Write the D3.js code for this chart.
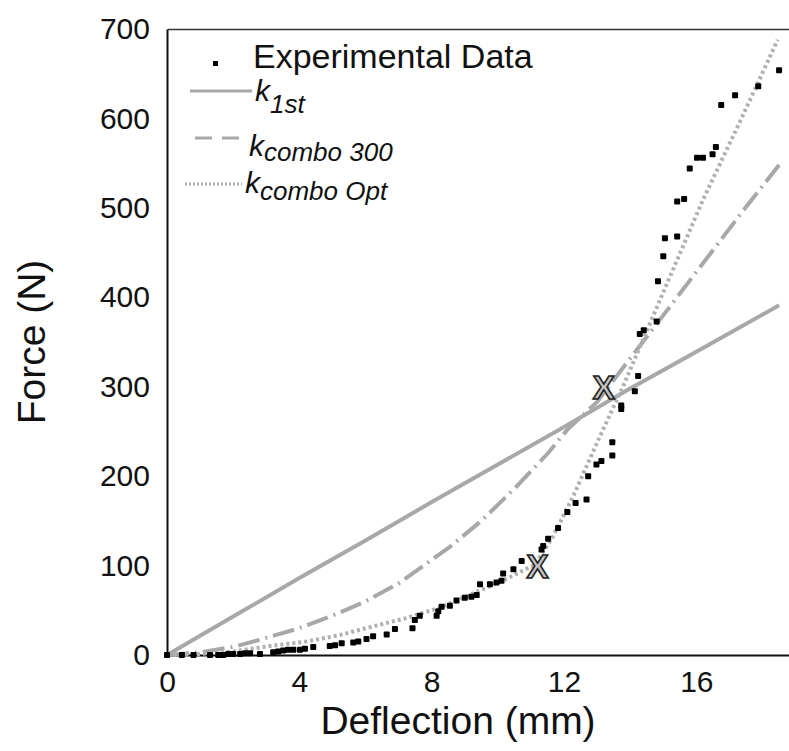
<!DOCTYPE html>
<html>
<head>
<meta charset="utf-8">
<script src="https://cdn.jsdelivr.net/npm/d3@7"></script>
<style>
  body { margin: 0; background: #fff; }
  svg { display: block; }
  svg text { font-family: "Liberation Sans", Arial, sans-serif; }
</style>
</head>
<body>
<div id="chart"></div>
<script>
// axis ticks
const xTicks = [0, 4, 8, 12, 16];
const yTicks = [0, 100, 200, 300, 400, 500, 600, 700];

// experimental data [deflection mm, force N]
const expData = [
  [0, 0], [0.45, 0], [0.8, 0], [1.3, 0], [1.55, 0], [1.7, 0], [1.85, 1], [2.0, 1],
  [2.21, 1], [2.36, 2], [2.51, 2], [2.81, 1], [3.21, 3], [3.36, 4], [3.51, 5], [3.66, 6],
  [3.82, 6], [4.02, 6], [4.17, 7], [4.42, 9], [4.92, 10], [5.08, 11], [5.28, 13], [5.63, 14],
  [5.78, 15], [6.03, 18], [6.23, 21], [6.64, 23], [6.89, 29], [7.42, 30], [7.49, 39], [7.64, 44],
  [8.15, 44], [8.2, 49], [8.3, 54], [8.55, 55], [8.75, 61], [9.0, 64], [9.2, 65], [9.36, 67],
  [9.46, 79], [9.76, 79], [9.96, 81], [10.11, 83], [10.16, 91], [10.47, 96], [10.72, 105],
  [11.32, 118], [11.37, 122], [11.52, 130], [11.82, 142], [12.1, 160], [12.35, 170],
  [12.68, 174], [12.73, 200], [12.98, 213], [13.13, 217], [13.46, 223], [13.46, 238],
  [13.73, 275], [13.73, 279], [14.14, 295], [14.24, 312], [14.29, 359], [14.41, 363],
  [14.8, 373], [14.84, 418], [15.0, 446], [15.05, 466], [15.42, 468], [15.42, 507],
  [15.63, 510], [15.8, 544], [16.02, 556], [16.2, 556], [16.49, 560], [16.59, 568],
  [16.75, 615], [17.17, 626], [17.87, 636], [18.5, 654]
];

// model curves
const k1st = [[0, 0], [2, 43], [4, 86], [6, 128], [8, 171], [10, 213], [12, 255], [14, 298], [16, 339], [18.5, 391]];
const kCombo300 = [[0, 0], [1, 3], [2, 9], [2.8, 17], [4, 30], [5.2, 47], [6, 60], [7, 80], [8.55, 121],
  [9.5, 150], [10.5, 186], [11.5, 225], [12.1, 252], [13, 283], [13.8, 322], [14.9, 375],
  [16.2, 438], [17.5, 501], [18.5, 548]];
const kComboOpt = [[0, 0], [1, 1], [2, 4], [3.3, 11], [4.2, 15], [5.2, 22], [5.8, 28], [7.2, 41],
  [8.25, 53], [9.45, 72], [10.25, 85], [10.9, 97], [11.1, 100], [11.66, 132], [12.27, 177],
  [13.08, 244], [13.78, 300], [14.9, 397], [16.2, 509], [17.3, 595], [18.46, 688]];

// transition points marked with X
const xMarks = [[11.2, 100], [13.2, 300]];

const width = 789, height = 751;
const margin = { top: 29, right: 0, bottom: 96, left: 167 };
const font = "'Liberation Sans', Arial, sans-serif";

const svg = d3.select("#chart").append("svg")
  .attr("width", width)
  .attr("height", height);

const x = d3.scaleLinear().domain([0, 18.8]).range([margin.left, width - margin.right]);
const y = d3.scaleLinear().domain([0, 700]).range([height - margin.bottom, margin.top]);

// axes
const xAxis = svg.append("g")
  .attr("transform", `translate(0,${y(0)})`)
  .call(d3.axisBottom(x).tickValues(xTicks).tickSize(0).tickSizeOuter(0).tickPadding(16));
xAxis.attr("font-family", font);
xAxis.select(".domain").attr("stroke", "#111").attr("stroke-width", 2);
xAxis.selectAll("text").style("font-size", "30px").attr("fill", "#111");

const yAxis = svg.append("g")
  .attr("transform", `translate(${x(0)},0)`)
  .call(d3.axisLeft(y).tickValues(yTicks).tickSize(0).tickSizeOuter(0).tickPadding(17));
yAxis.attr("font-family", font);
yAxis.select(".domain").attr("stroke", "#111").attr("stroke-width", 2);
yAxis.selectAll("text").style("font-size", "30px").attr("fill", "#111");

const topAxis = svg.append("g")
  .attr("transform", `translate(0,${y(700)})`)
  .call(d3.axisTop(x).tickValues([]).tickSizeOuter(0));
topAxis.select(".domain").attr("stroke", "#333").attr("stroke-width", 1.5);

// axis titles
svg.append("text")
  .attr("x", 458)
  .attr("y", 734)
  .attr("text-anchor", "middle")
  .style("font-size", "39px")
  .attr("fill", "#111")
  .text("Deflection (mm)");

svg.append("text")
  .attr("transform", `translate(45,${(y(0) + y(700)) / 2}) rotate(-90)`)
  .attr("text-anchor", "middle")
  .style("font-size", "39px")
  .attr("fill", "#111")
  .text("Force (N)");

const line = d3.line().x(d => x(d[0])).y(d => y(d[1]));
const gray = "#a8a8a8";

svg.append("path").datum(k1st)
  .attr("d", line).attr("fill", "none")
  .attr("stroke", gray).attr("stroke-width", 4);

svg.append("path").datum(kCombo300)
  .attr("d", line).attr("fill", "none")
  .attr("stroke", gray).attr("stroke-width", 4)
  .attr("stroke-dasharray", "22,6,2,6");

svg.append("path").datum(kComboOpt)
  .attr("d", line).attr("fill", "none")
  .attr("stroke", "#b0b0b0").attr("stroke-width", 4)
  .attr("stroke-dasharray", "3,3");

// experimental points
svg.append("g").selectAll("rect")
  .data(expData)
  .join("rect")
  .attr("x", d => x(d[0]) - 3)
  .attr("y", d => y(d[1]) - 3)
  .attr("width", 6)
  .attr("height", 6)
  .attr("rx", 1)
  .attr("fill", "#000");

// X markers
svg.append("g").selectAll("text")
  .data(xMarks)
  .join("text")
  .attr("x", d => x(d[0]))
  .attr("y", d => y(d[1]) + 12)
  .attr("text-anchor", "middle")
  .style("font-size", "33px")
  .style("font-weight", "bold")
  .attr("fill", "#c4c4c4")
  .attr("stroke", "#222")
  .attr("stroke-width", 1.6)
  .text("X");

// legend
const leg = svg.append("g");
leg.append("rect").attr("x", 213).attr("y", 61).attr("width", 5).attr("height", 5).attr("fill", "#000");
leg.append("text").attr("x", 253).attr("y", 68)
  .style("font-size", "34px").attr("fill", "#111").text("Experimental Data");

leg.append("line").attr("x1", 190).attr("x2", 252).attr("y1", 91).attr("y2", 91)
  .attr("stroke", gray).attr("stroke-width", 3);
leg.append("line").attr("x1", 195).attr("x2", 241).attr("y1", 138).attr("y2", 138)
  .attr("stroke", gray).attr("stroke-width", 3).attr("stroke-dasharray", "17,10");
leg.append("line").attr("x1", 185).attr("x2", 242).attr("y1", 184).attr("y2", 184)
  .attr("stroke", "#b0b0b0").attr("stroke-width", 3).attr("stroke-dasharray", "2,2");

const legText = [
  { x: 255, y: 101, sub: "1st", dy: 12 },
  { x: 249, y: 156, sub: "combo 300", dy: 5 },
  { x: 245, y: 193, sub: "combo Opt", dy: 7 }
];
legText.forEach(t => {
  const tx = leg.append("text").attr("x", t.x).attr("y", t.y)
    .style("font-style", "italic").attr("fill", "#111");
  tx.append("tspan").style("font-size", "30px").text("k");
  tx.append("tspan").attr("dy", t.dy).style("font-size", "26px").text(t.sub);
});
</script>
</body>
</html>
